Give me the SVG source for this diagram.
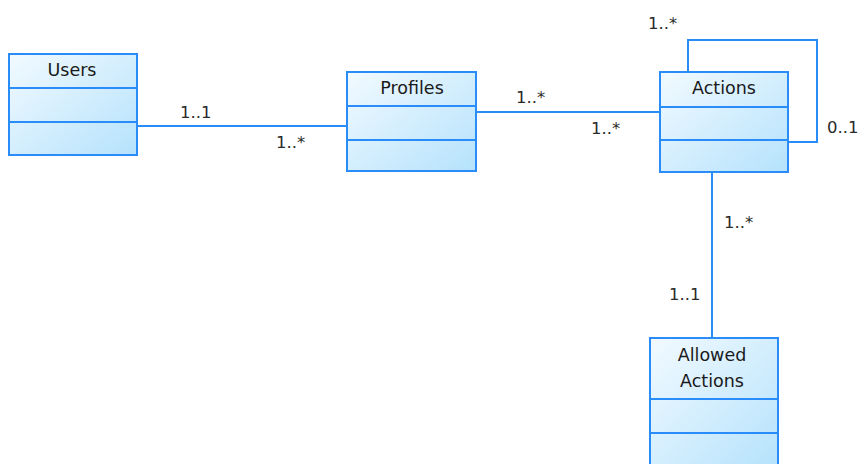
<svg xmlns="http://www.w3.org/2000/svg" width="864" height="464" viewBox="0 0 864 464">
<defs>
<linearGradient id="g" x1="0" y1="0" x2="1" y2="1">
<stop offset="0" stop-color="#f2faff"/>
<stop offset="1" stop-color="#b5e2fc"/>
</linearGradient>
<style>
.box{fill:url(#g);stroke:#2a8cf8;stroke-width:2}
.div{stroke:#2a8cf8;stroke-width:2}
.conn{fill:none;stroke:#2a8cf8;stroke-width:2}
.t{font-family:"DejaVu Sans",sans-serif;font-size:17.5px;fill:#1a1a1a;text-anchor:middle}
.l{font-family:"DejaVu Sans",sans-serif;font-size:16.5px;fill:#2a2a2a}
</style>
</defs>
<rect width="864" height="464" fill="#ffffff"/>
<g id="connectors">
<polyline class="conn" points="137,126 347,126"/>
<polyline class="conn" points="476,112 660,112"/>
<polyline class="conn" points="688,72 688,40 817,40 817,142 788,142"/>
<polyline class="conn" points="712,172 712,338"/>
<text class="l" x="180" y="118">1..1</text>
<text class="l" x="276" y="148">1..*</text>
<text class="l" x="516" y="103">1..*</text>
<text class="l" x="591" y="134">1..*</text>
<text class="l" x="648" y="29">1..*</text>
<text class="l" x="827" y="133">0..1</text>
<text class="l" x="724" y="228">1..*</text>
<text class="l" x="669" y="300">1..1</text>
</g>
<g id="users">
<rect class="box" x="9" y="54" width="128" height="101"/>
<line class="div" x1="9" y1="88" x2="137" y2="88"/>
<line class="div" x1="9" y1="122" x2="137" y2="122"/>
<text class="t" x="72" y="76">Users</text>
</g>
<g id="profiles">
<rect class="box" x="347" y="72" width="129" height="99"/>
<line class="div" x1="347" y1="106" x2="476" y2="106"/>
<line class="div" x1="347" y1="140" x2="476" y2="140"/>
<text class="t" x="412" y="94">Profiles</text>
</g>
<g id="actions">
<rect class="box" x="660" y="72" width="128" height="100"/>
<line class="div" x1="660" y1="107" x2="788" y2="107"/>
<line class="div" x1="660" y1="140" x2="788" y2="140"/>
<text class="t" x="724" y="94">Actions</text>
</g>
<g id="allowed-actions">
<rect class="box" x="650" y="338" width="128" height="130"/>
<line class="div" x1="650" y1="399" x2="778" y2="399"/>
<line class="div" x1="650" y1="433" x2="778" y2="433"/>
<text class="t" x="712" y="361">Allowed</text>
<text class="t" x="712" y="387">Actions</text>
</g>
</svg>
